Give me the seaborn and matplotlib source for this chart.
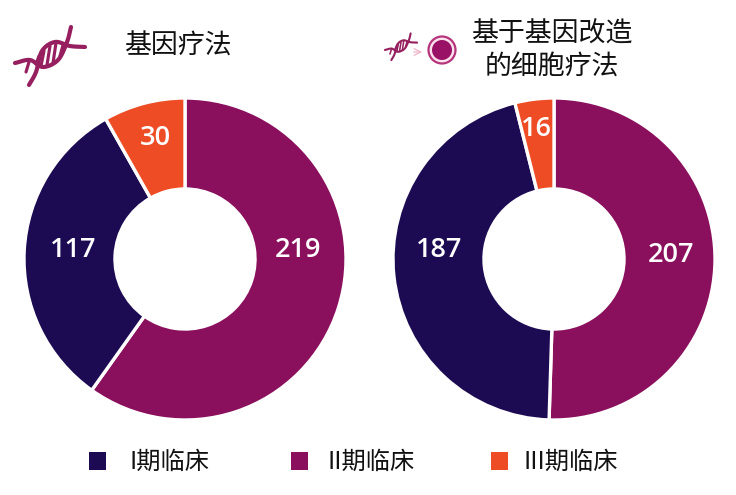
import numpy as np
import matplotlib
matplotlib.use("Agg")
import matplotlib.pyplot as plt
from matplotlib.patches import Rectangle, Circle
import seaborn as sns

stages = ["I期临床", "II期临床", "III期临床"]
titles = ["基因疗法", "基于基因改造\n的细胞疗法"]
gene_values = [117, 219, 30]
cell_values = [187, 207, 16]
stage_colors = ["#1c0a52", "#8a0f5c", "#ee4c24"]

sns.set_theme(style="white")
plt.rcParams["font.family"] = ["Noto Sans CJK SC", "DejaVu Sans"]
palette = sns.color_palette(stage_colors)

W, H = 736, 495
fig = plt.figure(figsize=(W / 100, H / 100), dpi=100, facecolor="white")


def box(x0, y0, x1, y1):
    return [x0 / W, 1 - y1 / H, (x1 - x0) / W, (y1 - y0) / H]


def donut(rect, values, label_pos):
    ax = fig.add_axes(box(*rect))
    order = [1, 0, 2]
    ax.pie([values[i] for i in order], colors=[palette[i] for i in order],
           startangle=90, counterclock=False, radius=1.0,
           wedgeprops=dict(width=0.565, edgecolor="white", linewidth=2.4))
    ax.set_xlim(-1, 1)
    ax.set_ylim(-1, 1)
    ax.set_aspect("equal")
    ax.axis("off")
    for v, (x, y) in zip(values, label_pos):
        ax.text(x, y, str(v), color="white", fontsize=19.5, ha="center", va="center",
                family=["Open Sans", "DejaVu Sans"], fontweight="semibold")


donut((24, 98, 346, 420), gene_values, [(-0.695, 0.055), (0.70, 0.055), (-0.185, 0.75)])
donut((393, 98, 715, 420), cell_values, [(-0.715, 0.055), (0.725, 0.025), (-0.11, 0.805)])

# overlay in pixel coordinates for titles, icons and legend
ov = fig.add_axes([0, 0, 1, 1], facecolor="none")
ov.set_xlim(0, W)
ov.set_ylim(H, 0)
ov.axis("off")

ov.text(177.5, 46, titles[0], fontsize=19.4, ha="center", va="center", color="#111111",
        fontweight="medium")
ov.text(552, 50, titles[1], fontsize=19.4, ha="center", va="center", color="#111111",
        linespacing=1.22, fontweight="medium")


def smooth(pts, n=20):
    p = np.array(pts, float)
    p = np.vstack([2 * p[0] - p[1], p, 2 * p[-1] - p[-2]])
    out = []
    for i in range(1, len(p) - 2):
        t = np.linspace(0, 1, n)[:, None]
        a, b, c, d = p[i - 1], p[i], p[i + 1], p[i + 2]
        out.append(0.5 * (2 * b + (c - a) * t + (2 * a - 5 * b + 4 * c - d) * t ** 2
                          + (3 * b - a - 3 * c + d) * t ** 3))
    return np.vstack(out)


strand_a = [(15, 63), (30, 60), (43, 67), (58, 60), (67, 42), (71, 27)]
strand_b = [(29, 85), (36, 72), (42, 51), (55, 42), (70, 46), (85, 47)]
rungs = [((29, 62), (26, 72)), ((36, 64), (39, 56)), ((41, 66), (44, 51)),
         ((47, 65), (50, 46)), ((53, 63), (56, 43)), ((60, 56), (63, 45))]


def dna(ox, oy, s, lw):
    c = "#96205f"
    T = lambda q: (ox + s * np.asarray(q, float)[..., 0], oy + s * np.asarray(q, float)[..., 1])
    for st in (strand_a, strand_b):
        x, y = T(smooth(st))
        ov.plot(x, y, color=c, lw=lw, solid_capstyle="round")
    for r in rungs:
        x, y = T(np.array(r))
        ov.plot(x, y, color=c, lw=lw * 0.75)


dna(0, 0, 1, 3.0)
dna(378, 21, 0.46, 1.5)
ov.annotate("", xy=(425, 52), xytext=(411, 52),
            arrowprops=dict(arrowstyle="->", color="#eeb4c8", lw=0.9))
ov.add_patch(Circle((442, 50), 13.5, facecolor="#fbe3ee", edgecolor="#b5357d", lw=1.6))
ov.add_patch(Circle((442, 50), 10, facecolor="#9a1266", edgecolor="none"))

squares = [89, 291, 491]
texts = [130, 327, 524]
for sq, tx, lab, col in zip(squares, texts, stages, palette):
    ov.add_patch(Rectangle((sq, 452), 17, 17.5, facecolor=col, edgecolor="none"))
    ov.text(tx, 462, lab, fontsize=17.5, ha="left", va="center", color="#111111",
            fontweight="medium")

fig.savefig("out.png", dpi=100)
